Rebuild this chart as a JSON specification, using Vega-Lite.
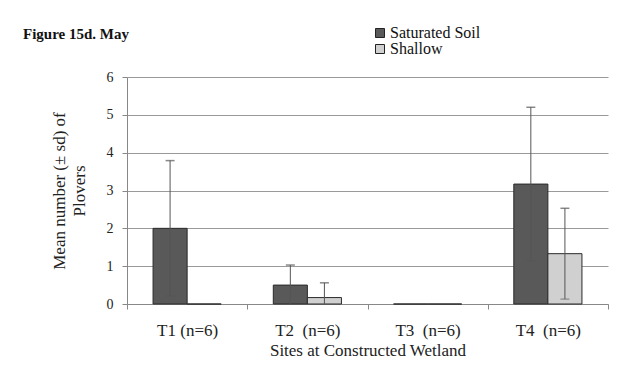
{
  "$schema": "https://vega.github.io/schema/vega-lite/v6.json",
  "width": 481,
  "height": 227,
  "autosize": "none",
  "padding": {"left": 127, "top": 77, "right": 15, "bottom": 69},
  "background": "white",
  "title": {
    "text": "Figure 15d. May",
    "anchor": "start",
    "dx": -27,
    "offset": 0,
    "dy": 17,
    "fontSize": 15,
    "fontWeight": "bold",
    "color": "#111"
  },
  "data": {
    "values": [
      {"site": "T1 (n=6)", "type": "Saturated Soil", "mean": 2.0, "lo": 0.21, "hi": 3.79},
      {"site": "T1 (n=6)", "type": "Shallow", "mean": 0.0, "lo": 0.0, "hi": 0.0},
      {"site": "T2\u00a0 (n=6)", "type": "Saturated Soil", "mean": 0.5, "lo": 0.0, "hi": 1.03},
      {"site": "T2\u00a0 (n=6)", "type": "Shallow", "mean": 0.17, "lo": 0.0, "hi": 0.56},
      {"site": "T3\u00a0 (n=6)", "type": "Saturated Soil", "mean": 0.0, "lo": 0.0, "hi": 0.0},
      {"site": "T3\u00a0 (n=6)", "type": "Shallow", "mean": 0.0, "lo": 0.0, "hi": 0.0},
      {"site": "T4\u00a0 (n=6)", "type": "Saturated Soil", "mean": 3.17, "lo": 1.14, "hi": 5.2},
      {"site": "T4\u00a0 (n=6)", "type": "Shallow", "mean": 1.33, "lo": 0.13, "hi": 2.53}
    ]
  },
  "encoding": {
    "x": {
      "field": "site",
      "type": "nominal",
      "sort": null,
      "scale": {"paddingInner": 0, "paddingOuter": 0},
      "axis": {
        "title": "Sites at Constructed Wetland",
        "labelAngle": 0,
        "labelFontSize": 17,
        "titleFontSize": 17,
        "tickBand": "extent",
        "tickExtra": true,
        "tickSize": 5,
        "labelPadding": 13,
        "titlePadding": 4,
        "domainColor": "#888",
        "tickColor": "#888"
      }
    },
    "xOffset": {
      "field": "type",
      "type": "nominal",
      "sort": ["Saturated Soil", "Shallow"],
      "scale": {"paddingInner": 0, "paddingOuter": 0.765}
    }
  },
  "layer": [
    {
      "mark": {"type": "bar", "stroke": "#2a2a2a", "strokeWidth": 1},
      "encoding": {
        "y": {
          "field": "mean",
          "type": "quantitative",
          "scale": {"domain": [0, 6], "nice": false},
          "axis": {
            "title": ["Mean number (± sd) of", "Plovers"],
            "values": [0, 1, 2, 3, 4, 5, 6],
            "labelOverlap": false,
            "grid": true,
            "gridColor": "#9a9a9a",
            "domainColor": "#888",
            "tickColor": "#888",
            "tickSize": 5,
            "labelPadding": 9,
            "titlePadding": 18,
            "titleFontSize": 17,
            "titleLineHeight": 20
          }
        },
        "fill": {
          "field": "type",
          "type": "nominal",
          "sort": ["Saturated Soil", "Shallow"],
          "scale": {"range": ["#595959", "#d0d0d0"]},
          "legend": {
            "title": null,
            "orient": "none",
            "legendX": 245,
            "legendY": -52,
            "symbolType": "square",
            "symbolSize": 81,
            "symbolStrokeColor": "#222",
            "symbolStrokeWidth": 1,
            "labelFontSize": 16,
            "labelOffset": 2,
            "rowPadding": -1
          }
        }
      }
    },
    {
      "transform": [{"filter": "datum.hi > datum.lo"}],
      "mark": {"type": "rule", "color": "#555", "strokeWidth": 1},
      "encoding": {
        "y": {
          "field": "lo",
          "type": "quantitative",
          "axis": {
            "title": ["Mean number (± sd) of", "Plovers"],
            "values": [0, 1, 2, 3, 4, 5, 6],
            "labelOverlap": false,
            "grid": true,
            "gridColor": "#9a9a9a",
            "domainColor": "#888",
            "tickColor": "#888",
            "tickSize": 5,
            "labelPadding": 9,
            "titlePadding": 18,
            "titleFontSize": 17,
            "titleLineHeight": 20
          }
        },
        "y2": {"field": "hi"}
      }
    },
    {
      "transform": [{"filter": "datum.hi > datum.lo && datum.lo > 0"}],
      "mark": {"type": "tick", "color": "#555", "thickness": 1, "size": 9},
      "encoding": {
        "y": {
          "field": "lo",
          "type": "quantitative",
          "axis": {
            "title": ["Mean number (± sd) of", "Plovers"],
            "values": [0, 1, 2, 3, 4, 5, 6],
            "labelOverlap": false,
            "grid": true,
            "gridColor": "#9a9a9a",
            "domainColor": "#888",
            "tickColor": "#888",
            "tickSize": 5,
            "labelPadding": 9,
            "titlePadding": 18,
            "titleFontSize": 17,
            "titleLineHeight": 20
          }
        }
      }
    },
    {
      "transform": [{"filter": "datum.hi > datum.lo"}],
      "mark": {"type": "tick", "color": "#555", "thickness": 1.5, "size": 9},
      "encoding": {
        "y": {
          "field": "hi",
          "type": "quantitative",
          "axis": {
            "title": ["Mean number (± sd) of", "Plovers"],
            "values": [0, 1, 2, 3, 4, 5, 6],
            "labelOverlap": false,
            "grid": true,
            "gridColor": "#9a9a9a",
            "domainColor": "#888",
            "tickColor": "#888",
            "tickSize": 5,
            "labelPadding": 9,
            "titlePadding": 18,
            "titleFontSize": 17,
            "titleLineHeight": 20
          }
        }
      }
    }
  ],
  "config": {
    "font": "Liberation Serif, serif",
    "view": {"stroke": null},
    "title": {"font": "Liberation Serif, serif"},
    "axis": {
      "labelFont": "Liberation Serif, serif",
      "titleFont": "Liberation Serif, serif",
      "labelFontSize": 14,
      "titleFontWeight": "normal",
      "labelColor": "#222",
      "titleColor": "#222"
    },
    "legend": {
      "labelFont": "Liberation Serif, serif",
      "labelColor": "#111"
    }
  }
}
